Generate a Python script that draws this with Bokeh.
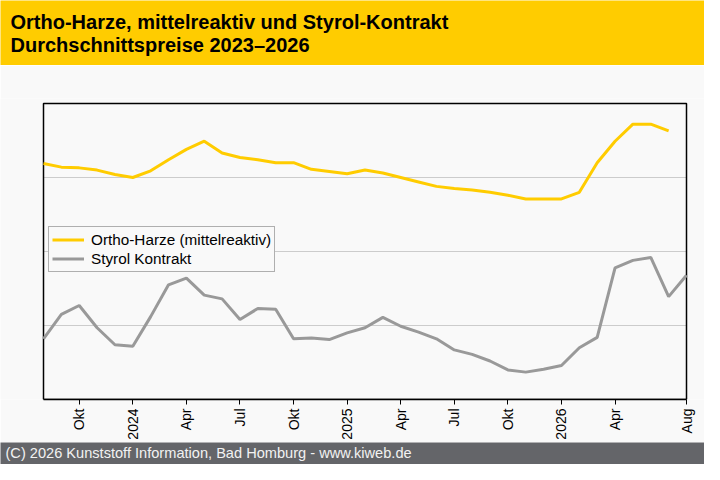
import math
from bokeh.plotting import figure
from bokeh.models import Range1d, FixedTicker, Legend, LegendItem
from bokeh.layouts import column
from bokeh.core.properties import value
from bokeh.embed import file_html
from bokeh.resources import INLINE

FONT = "Liberation Sans"

title_lines = ["Ortho-Harze, mittelreaktiv und Styrol-Kontrakt",
               "Durchschnittspreise 2023\u20132026"]
footer_text = "(C) 2026 Kunststoff Information, Bad Homburg - www.kiweb.de"

months = ["2023-08", "2023-09", "2023-10", "2023-11", "2023-12",
          "2024-01", "2024-02", "2024-03", "2024-04", "2024-05", "2024-06",
          "2024-07", "2024-08", "2024-09", "2024-10", "2024-11", "2024-12",
          "2025-01", "2025-02", "2025-03", "2025-04", "2025-05", "2025-06",
          "2025-07", "2025-08", "2025-09", "2025-10", "2025-11", "2025-12",
          "2026-01", "2026-02", "2026-03", "2026-04", "2026-05", "2026-06",
          "2026-07", "2026-08"]

tick_months = ["2023-10", "2024-01", "2024-04", "2024-07", "2024-10", "2025-01",
               "2025-04", "2025-07", "2025-10", "2026-01", "2026-04", "2026-08"]
tick_labels = ["Okt", "2024", "Apr", "Jul", "Okt", "2025",
               "Apr", "Jul", "Okt", "2026", "Apr", "Aug"]

# relative price level (index units, no y labels in the original)
ortho_harze = [3.19, 3.14, 3.13, 3.10, 3.04, 3.00, 3.09, 3.24, 3.38, 3.49,
               3.33, 3.27, 3.24, 3.20, 3.20, 3.11, 3.08, 3.05, 3.10, 3.06,
               3.00, 2.94, 2.88, 2.85, 2.83, 2.80, 2.76, 2.71, 2.71, 2.71,
               2.80, 3.20, 3.49, 3.72, 3.72, 3.63]
styrol = [0.82, 1.15, 1.27, 0.97, 0.74, 0.72, 1.12, 1.55, 1.64, 1.41,
          1.36, 1.08, 1.23, 1.22, 0.82, 0.83, 0.81, 0.90, 0.97, 1.11,
          0.99, 0.91, 0.82, 0.67, 0.61, 0.52, 0.40, 0.37, 0.41, 0.46,
          0.70, 0.84, 1.78, 1.88, 1.92, 1.39, 1.68]
y_min, y_max = 0, 4
grid_levels = [1, 2, 3]

series_names = ["Ortho-Harze (mittelreaktiv)", "Styrol Kontrakt"]
series_colors = ["#FFCC00", "#999999"]

month_index = {m: i for i, m in enumerate(months)}
x_ortho = [month_index[m] for m in months[:len(ortho_harze)]]
x_styrol = [month_index[m] for m in months[:len(styrol)]]
tick_pos = [month_index[m] for m in tick_months]
x_first, x_last = month_index[months[0]], month_index[months[-1]]

W = 704
HEAD_H, MAIN_H, FOOT_H = 65, 377, 22
BG = "#f9f9f9"

# ---------- header ----------
head = figure(width=W, height=HEAD_H, x_range=Range1d(0, W), y_range=Range1d(HEAD_H, 0),
              x_axis_type=None, y_axis_type=None,
              toolbar_location=None, output_backend="svg", min_border=0)
head.background_fill_color = "#FFCC00"
head.border_fill_color = "#FFCC00"
head.outline_line_color = None
head.grid.visible = False
head.text(x=[10, 10], y=[21, 44], text=title_lines, text_font=value(FONT),
          text_font_style="bold", text_font_size="20px", text_color="#000000",
          text_baseline="alphabetic", text_align="left")

# ---------- main chart ----------
# frame spans the full width; plot box sits at px 43..686
PLOT_L, PLOT_R = 43, 686
ppm = (PLOT_R - PLOT_L) / (x_last - x_first)
x_start = x_first - PLOT_L / ppm
x_end = x_last + (W - PLOT_R) / ppm
TOP_PAD = 5
FRAME_TOP, FRAME_BOT = 98 - HEAD_H, 400 - HEAD_H
ppu = (FRAME_BOT - FRAME_TOP - TOP_PAD) / (y_max - y_min)
p = figure(width=W, height=MAIN_H, x_range=Range1d(x_start, x_end),
           y_range=Range1d(y_min, y_max + TOP_PAD / ppu),
           toolbar_location=None, output_backend="svg",
           min_border_left=0, min_border_right=0,
           min_border_top=FRAME_TOP, min_border_bottom=MAIN_H - FRAME_BOT)
p.background_fill_color = BG
p.border_fill_color = BG
p.outline_line_color = None
p.yaxis.visible = False
p.xgrid.visible = False
p.ygrid.visible = False

p.segment(x0=[x_first] * len(grid_levels), x1=[x_last] * len(grid_levels),
          y0=grid_levels, y1=grid_levels, line_color="#cccccc", line_width=1)
p.quad(left=[x_first], right=[x_last], bottom=[y_min], top=[y_max],
       fill_color=None, line_color="#000000", line_width=1.5)

r1 = p.line(x_ortho, ortho_harze, line_color=series_colors[0], line_width=3)
r2 = p.line(x_styrol, styrol, line_color=series_colors[1], line_width=3)

xa = p.xaxis[0]
xa.bounds = (x_first, x_last)
xa.ticker = FixedTicker(ticks=tick_pos, minor_ticks=[])
xa.major_label_overrides = {t: l for t, l in zip(tick_pos, tick_labels)}
xa.major_label_orientation = math.pi / 2
xa.major_label_text_font = FONT
xa.major_label_text_font_size = "14px"
xa.major_label_text_color = "#000000"
xa.major_label_standoff = 4
xa.major_tick_out = 5
xa.major_tick_in = 0
xa.minor_tick_out = 0
xa.minor_tick_in = 0
xa.axis_line_color = "#000000"
xa.axis_line_width = 1.5
xa.major_tick_line_color = "#000000"

legend = Legend(items=[LegendItem(label=series_names[0], renderers=[r1]),
                       LegendItem(label=series_names[1], renderers=[r2])],
                location=(48, 127))
legend.background_fill_color = BG
legend.background_fill_alpha = 1
legend.border_line_color = "#666666"
legend.border_line_width = 1
legend.padding = 3
legend.spacing = 0
legend.margin = 0
legend.glyph_width = 32
legend.glyph_height = 19
legend.label_height = 19
legend.label_standoff = 7
legend.label_text_font = FONT
legend.label_text_font_size = "15.3px"
legend.label_text_color = "#000000"
p.add_layout(legend, "center")

# ---------- footer ----------
foot = figure(width=W, height=FOOT_H, x_range=Range1d(0, W), y_range=Range1d(FOOT_H, 0),
              x_axis_type=None, y_axis_type=None,
              toolbar_location=None, output_backend="svg", min_border=0)
foot.background_fill_color = "#646569"
foot.border_fill_color = "#646569"
foot.outline_line_color = None
foot.grid.visible = False
foot.text(x=[5], y=[10], text=[footer_text], text_font=value(FONT),
          text_font_size="14.6px", text_color="#f2f2f2",
          text_baseline="alphabetic", text_align="left")

layout = column(head, p, foot, spacing=0)
open("out.html", "w").write(file_html(layout, INLINE))
